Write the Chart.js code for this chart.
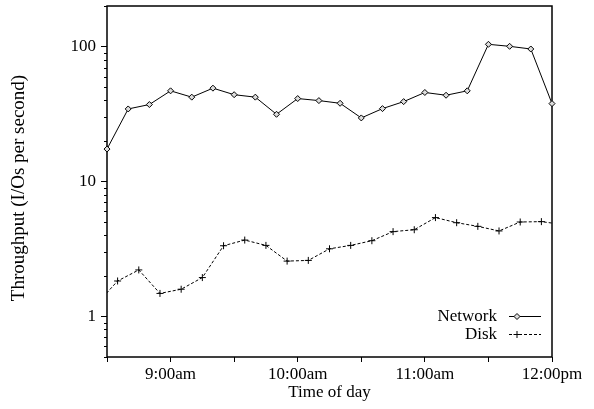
<!DOCTYPE html>
<html>
<head>
<meta charset="utf-8">
<script src="https://cdn.jsdelivr.net/npm/chart.js@4"></script>
<style>
  html, body { margin: 0; padding: 0; background: #fff; }
  #wrap { width: 594px; height: 409px; }
</style>
</head>
<body>
<div id="wrap"><canvas id="chart" width="594" height="409"></canvas></div>
<script>
  // Network samples every 10 minutes
  const netTimes = ['8:30', '8:40', '8:50', '9:00', '9:10', '9:20', '9:30', '9:40', '9:50', '10:00', '10:10',
    '10:20', '10:30', '10:40', '10:50', '11:00', '11:10', '11:20', '11:30', '11:40', '11:50', '12:00'];
  const netValues = [17.4, 34.5, 37.2, 47.0, 42.2, 49.2, 44.0, 42.2, 31.5, 41.2, 39.8,
    38.0, 29.6, 34.7, 39.1, 45.7, 43.6, 47.0, 104, 100.5, 96.0, 37.8];

  // Disk samples, offset by 5 minutes
  const diskTimes = ['8:25', '8:35', '8:45', '8:55', '9:05', '9:15', '9:25', '9:35', '9:45', '9:55', '10:05', '10:15',
    '10:25', '10:35', '10:45', '10:55', '11:05', '11:15', '11:25', '11:35', '11:45', '11:55', '12:05'];
  const diskValues = [1.23, 1.83, 2.21, 1.48, 1.59, 1.94, 3.34, 3.68, 3.36, 2.57, 2.60, 3.17,
    3.36, 3.64, 4.25, 4.39, 5.40, 4.95, 4.65, 4.30, 5.01, 5.04, 4.8];

  const yLabelValues = [1, 10, 100];
  const seriesNames = ['Network', 'Disk'];
  const yTitle = 'Throughput (I/Os per second)';

  const FONT = "'Liberation Serif', 'Times New Roman', serif";

  // "9:30" -> minutes since midnight
  function toMinutes(t) {
    const parts = t.split(':');
    return parseInt(parts[0], 10) * 60 + parseInt(parts[1], 10);
  }

  function formatClock(mins) {
    const h = Math.floor(mins / 60);
    const m = mins % 60;
    const suffix = h >= 12 ? 'pm' : 'am';
    const hh = h > 12 ? h - 12 : h;
    return hh + ':' + (m < 10 ? '0' + m : m) + suffix;
  }

  function toPoints(times, values) {
    return times.map((t, i) => ({ x: toMinutes(t), y: values[i] }));
  }

  // Frame, minor log ticks, y title and the legend box
  const decorations = {
    id: 'decorations',
    beforeDatasetsDraw(chart) {
      const ctx = chart.ctx;
      const a = chart.chartArea;
      const y = chart.scales.y;
      ctx.save();
      ctx.strokeStyle = '#000';
      ctx.lineWidth = 1.5;
      ctx.strokeRect(a.left, a.top, a.right - a.left, a.bottom - a.top);

      // minor ticks on the log axis
      ctx.lineWidth = 1;
      ctx.beginPath();
      for (let dec = 0.1; dec <= 100; dec *= 10) {
        for (let s = 2; s <= 9; s++) {
          const v = s * dec;
          if (v < y.min || v > y.max) continue;
          const py = Math.round(y.getPixelForValue(v)) + 0.5;
          ctx.moveTo(a.left - 3, py);
          ctx.lineTo(a.left, py);
        }
      }
      ctx.stroke();
      ctx.restore();
    },
    afterDraw(chart) {
      const ctx = chart.ctx;
      ctx.save();
      ctx.fillStyle = '#000';

      // rotated y axis title
      ctx.save();
      ctx.translate(19, 188);
      ctx.rotate(-Math.PI / 2);
      ctx.font = '19px ' + FONT;
      ctx.textAlign = 'center';
      ctx.textBaseline = 'middle';
      ctx.fillText(yTitle, 0, 0);
      ctx.restore();

      const rows = [316, 334];
      const textRight = 497;
      const lineL = 509, lineR = 541, mark = 517;
      ctx.font = '17px ' + FONT;
      ctx.textAlign = 'right';
      ctx.textBaseline = 'middle';
      chart.data.datasets.forEach((ds, i) => {
        const ry = rows[i];
        ctx.fillText(seriesNames[i], textRight, ry + 1);
        ctx.strokeStyle = '#000';
        ctx.lineWidth = 1;
        ctx.setLineDash(ds.borderDash || []);
        ctx.beginPath();
        ctx.moveTo(lineL, ry + 0.5);
        ctx.lineTo(lineR, ry + 0.5);
        ctx.stroke();
        ctx.setLineDash([]);
        ctx.fillStyle = ds.pointBackgroundColor;
        Chart.helpers.drawPoint(ctx, {
          pointStyle: ds.pointStyle,
          radius: ds.pointRadius,
          borderWidth: 1,
          rotation: 0
        }, mark, ry + 0.5);
        ctx.fillStyle = '#000';
      });
      ctx.restore();
    }
  };

  new Chart(document.getElementById('chart'), {
    type: 'line',
    data: {
      datasets: [
        {
          label: seriesNames[0],
          data: toPoints(netTimes, netValues),
          borderColor: '#000',
          borderWidth: 1,
          pointStyle: 'rectRot',
          pointRadius: 3,
          pointBorderColor: '#000',
          pointBackgroundColor: '#ddd',
          pointBorderWidth: 1,
          tension: 0,
          clip: false
        },
        {
          label: seriesNames[1],
          data: toPoints(diskTimes, diskValues),
          borderColor: '#000',
          borderWidth: 1,
          borderDash: [3, 2],
          pointStyle: 'cross',
          pointRadius: 3.5,
          pointBorderColor: '#000',
          pointBackgroundColor: '#000',
          pointBorderWidth: 1,
          tension: 0
        }
      ]
    },
    options: {
      responsive: false,
      animation: false,
      devicePixelRatio: 1,
      layout: { padding: { top: 6, right: 42, left: 0, bottom: 0 } },
      plugins: {
        legend: { display: false },
        tooltip: { enabled: false }
      },
      scales: {
        x: {
          type: 'linear',
          min: toMinutes('8:30'),
          max: toMinutes('12:00'),
          afterFit: s => { s.height = 52; },
          ticks: {
            stepSize: 30,
            autoSkip: false,
            maxRotation: 0,
            padding: 2,
            color: '#000',
            font: { family: FONT, size: 17 },
            callback: v => (v % 60 === 0 ? formatClock(v) : '')
          },
          grid: {
            drawOnChartArea: false,
            drawTicks: true,
            tickLength: 5,
            tickColor: '#000',
            color: '#000'
          },
          border: { display: false },
          title: {
            display: true,
            text: 'Time of day',
            color: '#000',
            font: { family: FONT, size: 17 },
            padding: { top: 0, bottom: 6 }
          }
        },
        y: {
          type: 'logarithmic',
          min: 0.5,
          max: 200,
          afterFit: s => {
            s.width = 107;
            s.paddingTop = 0;
            s.paddingBottom = 0;
          },
          afterBuildTicks: s => { s.ticks = yLabelValues.map(v => ({ value: v, major: true })); },
          ticks: {
            autoSkip: false,
            padding: 5,
            color: '#000',
            font: { family: FONT, size: 17 },
            callback: v => String(v)
          },
          grid: {
            drawOnChartArea: false,
            drawTicks: true,
            tickLength: 6,
            tickColor: '#000',
            color: '#000'
          },
          border: { display: false }
        }
      }
    },
    plugins: [decorations]
  });
</script>
</body>
</html>
